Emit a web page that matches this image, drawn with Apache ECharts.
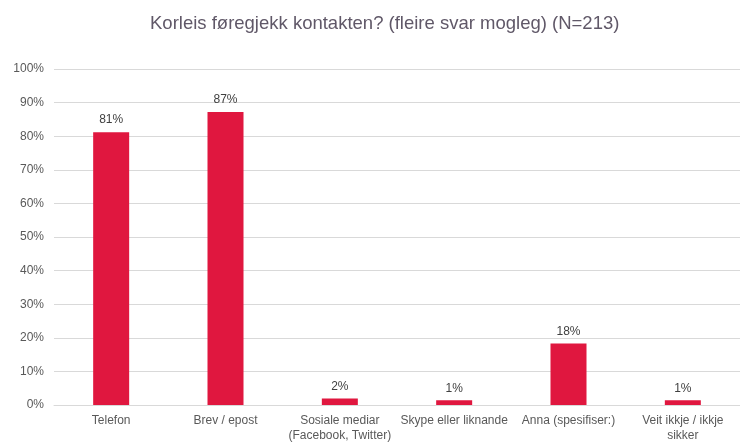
<!DOCTYPE html>
<html><head><meta charset="utf-8">
<script src="https://cdn.jsdelivr.net/npm/echarts@6/dist/echarts.min.js"></script>
<style>html,body{margin:0;padding:0;background:#fff}#c{width:740px;height:443px}</style>
</head><body><div id="c"></div>
<script>
const categories = ['Telefon', 'Brev / epost', 'Sosiale mediar\n(Facebook, Twitter)', 'Skype eller liknande', 'Anna (spesifiser:)', 'Veit ikkje / ikkje\nsikker'];
const values = [81.2, 87.2, 1.9, 1.4, 18.3, 1.4];
const yTicks = [0, 10, 20, 30, 40, 50, 60, 70, 80, 90, 100];

const chart = echarts.init(document.getElementById('c'), null, {renderer: 'canvas'});
chart.setOption({
  animation: false,
  title: {
    text: 'Korleis føregjekk kontakten? (fleire svar mogleg) (N=213)',
    left: 145, top: 9,
    textStyle: {fontFamily: 'Liberation Sans', fontSize: 18.5, fontWeight: 'normal', color: '#605868'}
  },
  grid: {left: 54, top: 69, width: 690, height: 343, containLabel: false},
  xAxis: {
    type: 'category', data: categories,
    axisLine: {show: true, lineStyle: {color: '#d9d9d9'}},
    axisTick: {show: false},
    axisLabel: {interval: 0, fontFamily: 'Liberation Sans', fontSize: 12, color: '#595959', margin: 8, lineHeight: 15}
  },
  yAxis: {
    type: 'value', min: 0, max: 100, interval: 10,
    axisLabel: {formatter: v => yTicks.includes(v) ? v + '%' : '', fontFamily: 'Liberation Sans', fontSize: 12, color: '#595959', margin: 10},
    axisLine: {show: false}, axisTick: {show: false},
    splitLine: {lineStyle: {color: '#d9d9d9'}}
  },
  series: [{
    type: 'bar', data: values, barWidth: 36,
    itemStyle: {color: '#e0173f'},
    label: {show: true, position: 'top', distance: 6, formatter: p => Math.round(p.value) + '%',
      fontFamily: 'Liberation Sans', fontSize: 12, color: '#404040'}
  }]
});
</script></body></html>
